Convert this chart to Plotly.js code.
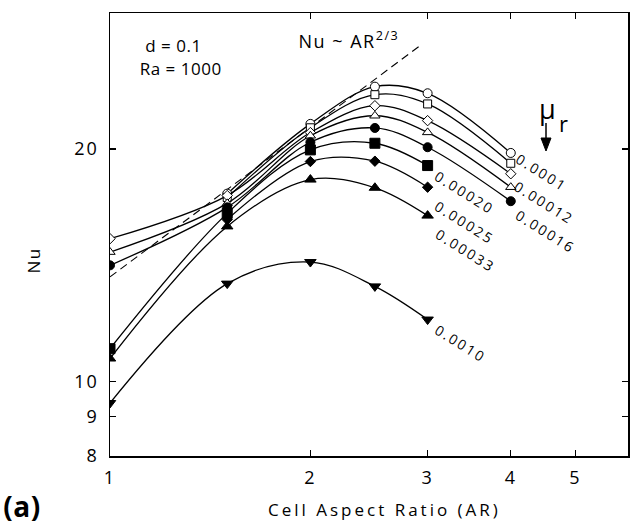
<!DOCTYPE html>
<html><head><meta charset="utf-8">
<script src="https://cdn.plot.ly/plotly-3.0.1.min.js"></script>
<style>body{margin:0;background:#fff}#c{width:642px;height:525px}
#c .xtick text, #c .ytick text{letter-spacing:2px}</style>
</head><body><div id="c"></div>
<script>
// Data
const AR_full = [1, 1.5, 2, 2.5, 3, 4];
const AR_no1 = [1.5, 2, 2.5, 3, 4];
const AR_to3 = [1, 1.5, 2, 2.5, 3];
const AR_diam = [1.5, 2, 2.5, 3];

const nu_0001   = [17.5, 21.55, 24.08, 23.61, 19.76];      // open circle (x = AR_no1)
const nu_00012  = [17.3, 21.3, 23.51, 22.87, 19.16];       // open square (x = AR_no1)
const nu_diamO  = [15.3, 17.4, 21.0, 22.75, 21.76, 18.57]; // open diamond
const nu_triO   = [14.7, 17.0, 20.8, 22.08, 21.01, 17.84]; // open triangle
const nu_circF  = [14.13, 16.8, 20.4, 21.29, 20.10, 17.11];// filled circle
const nu_sqF    = [11.02, 16.5, 19.94, 20.34, 19.03];      // filled square
const nu_diamF  = [16.2, 19.26, 19.28, 17.84];             // filled diamond
const nu_triF   = [10.70, 15.87, 18.25, 17.81, 16.39];     // filled triangle
const nu_0010   = [9.37, 13.38, 14.27, 13.27, 12.02];      // filled down triangle

const fitAR = [1, 2.92];
const fitNu = [13.65, 27.2];

const labels = ['0.0001','0.00012','0.00016','0.00020','0.00025','0.00033','0.0010'];
const xTicks = [1,2,3,4,5];
const yTicks = [8,9,10,20];

function series(x, y, symbol, filled, size){
  return {x:x, y:y, type:'scatter', mode:'lines+markers',
    line:{color:'#000', width:1.3, shape:'spline', smoothing:1},
    marker:{symbol:symbol, size:size, color: filled?'#000':'#fff', line:{color:'#000', width:1}},
    showlegend:false, hoverinfo:'skip'};
}
const traces = [
  {x:fitAR, y:fitNu, type:'scatter', mode:'lines', line:{color:'#000', width:1.1, dash:'8px,5px'}, showlegend:false},
  series(AR_no1, nu_0001, 'circle', false, 9),
  series(AR_no1, nu_00012, 'square', false, 8),
  series(AR_full, nu_diamO, 'diamond', false, 8),
  series(AR_full, nu_triO, 'triangle-up', false, 9),
  series(AR_full, nu_circF, 'circle', true, 9),
  series(AR_to3, nu_sqF, 'square', true, 10),
  series(AR_diam, nu_diamF, 'diamond', true, 8),
  series(AR_to3, nu_triF, 'triangle-up', true, 10),
  series(AR_to3, nu_0010, 'triangle-down', true, 10)
];

// plot area in pixels: left 110, right 628, top 13, bottom 456
const L=110, R=628, T=13, B=456;
function px(x){return (x-L)/(R-L);}
function py(y){return (B-y)/(B-T);}
const F = 'Open Sans, Noto Sans, sans-serif';
function txt(text, x, y, size, opts){
  return Object.assign({text:text, xref:'paper', yref:'paper', x:px(x), y:py(y),
    showarrow:false, font:{family:F, size:size, color:'#000'}, xanchor:'center', yanchor:'middle'}, opts||{});
}
const labPos = [[542,172],[544,203],[546,231],[465,192],[465,222],[466,250],[461,343]];
const ann = [
  txt('d = 0.1', 145, 45, 17, {xanchor:'left'}),
  txt('Ra = 1000', 140, 68, 17, {xanchor:'left'}),
  txt('Nu ~ AR<sup>2/3</sup>', 304, 40, 18, {xanchor:'left'}),
  txt('μ', 547, 108, 27),
  txt('r', 563, 123, 22),
  txt('Nu', 33, 261, 17, {textangle:-90}),
  txt('Cell Aspect Ratio (AR)', 384, 509, 17),
  txt('(a)', 22, 506, 28, {font:{family:F, size:28, color:'#000', weight:'bold'}})
];
labels.forEach((t,i)=>ann.push(txt(t, labPos[i][0], labPos[i][1], 14, {textangle:32})));
const spacing = [0.5, 0.5, 1.5, 0, 0, 1.5, 3, 0.5, 2.2, 2.2, 2.2, 2.2, 2.2, 2.2, 2.2];

const shapes = [
  {type:'line', xref:'paper', yref:'paper', x0:px(546), x1:px(546), y0:py(123), y1:py(140), line:{color:'#000', width:1.5}},
  {type:'path', xref:'paper', yref:'paper', fillcolor:'#000', line:{color:'#000', width:1},
   path:'M '+px(541)+' '+py(138)+' L '+px(551)+' '+py(138)+' L '+px(546)+' '+py(151)+' Z'}
];

const axisCommon = {type:'log', showgrid:false, zeroline:false, showline:true, linecolor:'#000', linewidth:1.5,
  mirror:'ticks', ticks:'inside', ticklen:6, tickwidth:1.2, tickcolor:'#000',
  tickfont:{family:F, size:18, color:'#000'}, tickmode:'array'};
const layout = {
  width:642, height:525, margin:{l:L, r:642-R, t:T, b:525-B},
  paper_bgcolor:'#fff', plot_bgcolor:'#fff', showlegend:false,
  xaxis: Object.assign({}, axisCommon, {range:[0, Math.log10(6)], tickvals:xTicks, ticktext:xTicks.map(String), ticklabelstandoff:5}),
  yaxis: Object.assign({}, axisCommon, {range:[Math.log10(8), Math.log10(30)], tickvals:yTicks, ticktext:yTicks.map(String), ticklabelstandoff:6}),
  annotations: ann, shapes: shapes
};
Plotly.newPlot('c', traces, layout, {staticPlot:true}).then(function(){
  document.querySelectorAll('#c .annotation-text').forEach(function(el, i){
    if (spacing[i]) el.style.letterSpacing = spacing[i] + 'px';
  });
});
</script></body></html>
